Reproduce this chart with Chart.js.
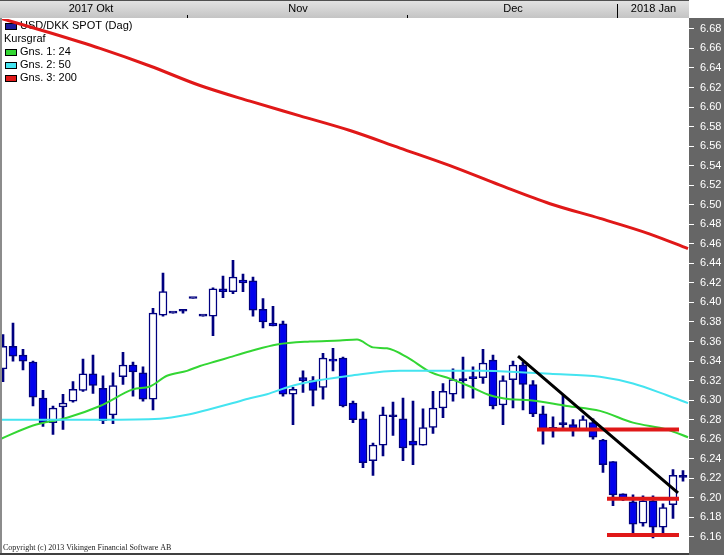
<!DOCTYPE html>
<html>
<head>
<meta charset="utf-8">
<script src="https://cdn.jsdelivr.net/npm/chart.js@4.4.1/dist/chart.umd.min.js"></script>
<style>
  html, body { margin: 0; padding: 0; background: #fff; }
  #wrap { width: 724px; height: 555px; }
</style>
</head>
<body>
<div id="wrap"><canvas id="myChart" width="724" height="555"></canvas></div>
<script>
// USD/DKK daily candles, index 0 = first visible trading day (Oct 2017)
const opens  = [6.332, 6.355, 6.346, 6.339, 6.302, 6.277, 6.293, 6.299, 6.310, 6.327,
                6.312, 6.285, 6.324, 6.336, 6.328, 6.301, 6.387, 6.389, 6.391, 6.404,
                6.386, 6.386, 6.414, 6.411, 6.423, 6.422, 6.393, 6.379, 6.378, 6.306,
                6.323, 6.320, 6.313, 6.342, 6.343, 6.297, 6.281, 6.238, 6.254, 6.283,
                6.281, 6.258, 6.254, 6.272, 6.292, 6.306, 6.320, 6.324, 6.323, 6.341,
                6.295, 6.321, 6.336, 6.316, 6.286, 6.270, 6.275, 6.275, 6.270, 6.277,
                6.259, 6.237, 6.204, 6.196, 6.174, 6.197, 6.170, 6.193, 6.221];
const highs  = [6.367, 6.379, 6.352, 6.340, 6.310, 6.294, 6.306, 6.319, 6.342, 6.346,
                6.325, 6.328, 6.349, 6.339, 6.334, 6.394, 6.430, 6.389, 6.392, 6.404,
                6.386, 6.415, 6.427, 6.443, 6.429, 6.426, 6.404, 6.396, 6.381, 6.313,
                6.330, 6.324, 6.348, 6.353, 6.344, 6.299, 6.288, 6.256, 6.293, 6.298,
                6.302, 6.299, 6.291, 6.309, 6.317, 6.332, 6.344, 6.334, 6.352, 6.346,
                6.325, 6.340, 6.339, 6.320, 6.294, 6.283, 6.305, 6.280, 6.284, 6.281,
                6.260, 6.237, 6.204, 6.203, 6.202, 6.202, 6.194, 6.229, 6.228];
const lows   = [6.319, 6.340, 6.331, 6.294, 6.273, 6.265, 6.270, 6.298, 6.309, 6.307,
                6.276, 6.276, 6.316, 6.304, 6.299, 6.290, 6.386, 6.389, 6.389, 6.404,
                6.386, 6.366, 6.405, 6.409, 6.411, 6.386, 6.374, 6.376, 6.304, 6.275,
                6.308, 6.294, 6.301, 6.330, 6.293, 6.277, 6.231, 6.223, 6.243, 6.264,
                6.238, 6.234, 6.254, 6.266, 6.282, 6.299, 6.302, 6.302, 6.317, 6.291,
                6.275, 6.292, 6.290, 6.283, 6.255, 6.262, 6.270, 6.263, 6.270, 6.260,
                6.226, 6.192, 6.197, 6.162, 6.171, 6.159, 6.164, 6.179, 6.217];
const closes = [6.355, 6.345, 6.340, 6.303, 6.277, 6.292, 6.297, 6.311, 6.327, 6.315,
                6.279, 6.315, 6.336, 6.329, 6.301, 6.389, 6.411, 6.389, 6.391, 6.404,
                6.386, 6.414, 6.411, 6.426, 6.420, 6.392, 6.380, 6.376, 6.306, 6.311,
                6.320, 6.310, 6.343, 6.340, 6.294, 6.280, 6.236, 6.254, 6.285, 6.283,
                6.251, 6.254, 6.272, 6.292, 6.309, 6.321, 6.320, 6.322, 6.338, 6.294,
                6.320, 6.336, 6.316, 6.286, 6.270, 6.270, 6.275, 6.271, 6.280, 6.262,
                6.234, 6.203, 6.199, 6.173, 6.197, 6.170, 6.190, 6.223, 6.221];

// moving averages, read at a set of trading-day positions
const ma24Days    = [-0.3, 3.0, 6.4, 9.7, 13.0, 14.7, 16.4, 18.4, 19.7, 21.4, 22.7, 24.7, 27.4, 30.7, 33.7,
                     35.4, 37.0, 38.4, 40.4, 42.7, 44.7, 46.7, 48.7, 50.7, 52.7, 56.4, 59.7, 63.0, 66.4, 68.5];
const ma24Values  = [6.260, 6.274, 6.282, 6.294, 6.311, 6.314, 6.325, 6.330, 6.335, 6.340, 6.344, 6.350, 6.357, 6.360, 6.361,
                     6.362, 6.354, 6.353, 6.344, 6.329, 6.322, 6.314, 6.305, 6.301, 6.300, 6.294, 6.289, 6.277, 6.270, 6.262];
const ma50Days    = [-0.3, 9.7, 15.7, 18.4, 20.4, 23.0, 24.7, 26.4, 28.7, 31.4, 34.7, 39.7, 47.7, 52.7, 54.7, 59.7, 63.0, 66.4, 68.5];
const ma50Values  = [6.280, 6.280, 6.281, 6.285, 6.290, 6.297, 6.302, 6.306, 6.314, 6.320, 6.325, 6.330, 6.330, 6.328, 6.327, 6.324, 6.317, 6.305, 6.297];
const ma200Days   = [-0.3, 4.7, 9.7, 14.7, 19.7, 24.7, 29.7, 34.7, 39.7, 44.7, 49.7, 54.7, 59.7, 64.7, 68.5];
const ma200Values = [6.691, 6.676, 6.660, 6.642, 6.622, 6.606, 6.591, 6.576, 6.558, 6.540, 6.520, 6.501, 6.486, 6.470, 6.455];

// drawn trend line and support/resistance levels
const trendDays   = [51.5, 67.5];
const trendValues = [6.345, 6.205];
const levelStarts = [53.4, 60.4, 60.4];
const levelEnds   = [67.6, 67.6, 67.6];
const levelValues = [6.270, 6.199, 6.162];

const monthLabels = ['2017 Okt', 'Nov', 'Dec', '2018 Jan'];
const monthStarts = [-3, 19, 41, 62];

const legendLabels = ['USD/DKK SPOT (Dag)', 'Kursgraf', 'Gns. 1: 24', 'Gns. 2: 50', 'Gns. 3: 200'];

const yMin = 6.1544, yMax = 6.6901, yStep = 0.02;

const NAVY = '#000080';
const BLUE = '#0000ee';
const GREEN = '#33d633';
const CYAN = '#44e4f0';
const RED = '#e01818';
const legendColors = ['#1c1c9c', null, GREEN, CYAN, RED];

const days = opens.map((o, i) => i);

function pts(xs, ys) {
  return xs.map((x, i) => ({ x: x, y: ys[i] }));
}

function bodyColor(i) {
  if (closes[i] === opens[i]) return NAVY;
  return closes[i] < opens[i] ? BLUE : '#ffffff';
}

const framePlugin = {
  id: 'frame',
  beforeDraw(chart) {
    const { ctx, chartArea: a, width, height } = chart;
    const xs = chart.scales.x;
    ctx.save();
    ctx.fillStyle = '#fff';
    ctx.fillRect(0, 0, width, height);
    // header bar with months
    const g = ctx.createLinearGradient(0, 0, 0, 18);
    g.addColorStop(0, '#e4e4e4');
    g.addColorStop(1, '#c4c4c4');
    ctx.fillStyle = g;
    ctx.fillRect(0, 0, a.right, 18);
    ctx.fillStyle = '#505050';
    ctx.fillRect(0, 0, a.right, 1);
    // right axis panel
    ctx.fillStyle = '#666666';
    ctx.fillRect(a.right, 18, width - a.right, height - 18);

    ctx.font = '11px "Liberation Sans", Arial, sans-serif';
    ctx.textAlign = 'center';
    ctx.textBaseline = 'middle';
    monthLabels.forEach((lab, i) => {
      const b0 = Math.max(a.left, xs.getPixelForValue(monthStarts[i] - 0.5));
      const b1 = i + 1 < monthStarts.length ? xs.getPixelForValue(monthStarts[i + 1] - 0.5) : a.right;
      ctx.fillStyle = '#000';
      ctx.fillText(lab, (b0 + Math.min(b1, a.right)) / 2 - (i === 0 ? 4 : 0), 9);
      if (i > 0) {
        const top = lab.length > 3 ? 4 : 15;
        ctx.fillRect(Math.round(b0) - 1, top, 1, 18 - top);
      }
    });
    ctx.restore();
  },
  beforeDatasetsDraw(chart) {
    const { ctx } = chart;
    ctx.save();
    ctx.font = '11px "Liberation Sans", Arial, sans-serif';
    ctx.textBaseline = 'middle';
    ctx.textAlign = 'left';
    legendLabels.forEach((lab, i) => {
      const y = 26 + i * 13;
      if (legendColors[i]) {
        ctx.fillStyle = legendColors[i];
        ctx.fillRect(5, y - 3, 12, 7);
        ctx.strokeStyle = '#000';
        ctx.lineWidth = 1;
        ctx.strokeRect(5.5, y - 2.5, 11, 6);
        ctx.fillStyle = '#000';
        ctx.fillText(lab, 20, y);
      } else {
        ctx.fillStyle = '#000';
        ctx.fillText(lab, 4, y);
      }
    });
    ctx.restore();
  },
  afterDraw(chart) {
    const { ctx, chartArea: a, height } = chart;
    ctx.save();
    ctx.fillStyle = '#8c8c8c';
    ctx.fillRect(0, 18, 2, height - 18);
    ctx.fillStyle = '#404040';
    ctx.fillRect(0, height - 2, a.right, 2);
    ctx.font = '8px "Liberation Serif", "Times New Roman", serif';
    ctx.fillStyle = '#222';
    ctx.textBaseline = 'alphabetic';
    ctx.fillText('Copyright (c) 2013 Vikingen Financial Software AB', 3, 550);
    ctx.restore();
  }
};

function lineSet(data, color, width, order) {
  return {
    type: 'line',
    data: data,
    borderColor: color,
    borderWidth: width,
    pointRadius: 0,
    cubicInterpolationMode: 'monotone',
    fill: false,
    order: order
  };
}

const datasets = [
  {
    type: 'bar',
    data: days.map(i => ({ x: i, y: [lows[i], highs[i]] })),
    backgroundColor: NAVY,
    borderWidth: 0,
    barThickness: 2,
    grouped: false,
    order: 6
  },
  {
    type: 'bar',
    data: days.map(i => ({ x: i, y: [Math.min(opens[i], closes[i]), Math.max(opens[i], closes[i])] })),
    backgroundColor: days.map(bodyColor),
    borderColor: NAVY,
    borderWidth: 1.5,
    borderSkipped: false,
    barThickness: 8,
    minBarLength: 2,
    grouped: false,
    order: 5
  },
  lineSet(pts(ma50Days, ma50Values), CYAN, 2, 4),
  lineSet(pts(ma24Days, ma24Values), GREEN, 2, 4),
  lineSet(pts(ma200Days, ma200Values), RED, 3, 4)
];
levelValues.forEach((v, i) => {
  datasets.push(lineSet(pts([levelStarts[i], levelEnds[i]], [v, v]), RED, 4, 2));
});
datasets.push(lineSet(pts(trendDays, trendValues), '#000000', 3, 1));

Chart.defaults.font.family = '"Liberation Sans", Arial, sans-serif';

new Chart(document.getElementById('myChart').getContext('2d'), {
  type: 'bar',
  data: { datasets: datasets },
  plugins: [framePlugin],
  options: {
    responsive: false,
    animation: false,
    devicePixelRatio: 1,
    layout: { padding: { top: 19, left: 2, bottom: 3, right: 0 } },
    plugins: { legend: { display: false }, tooltip: { enabled: false } },
    scales: {
      x: {
        type: 'linear',
        display: false,
        offset: false,
        min: -0.1,
        max: 68.6
      },
      y: {
        position: 'right',
        min: yMin,
        max: yMax,
        beginAtZero: false,
        afterFit: s => { s.width = 35; },
        border: { display: false },
        grid: { drawOnChartArea: false, tickLength: 5, tickColor: '#ffffff', tickWidth: 1 },
        ticks: {
          stepSize: yStep,
          includeBounds: false,
          autoSkip: false,
          color: '#ffffff',
          padding: 6,
          font: { size: 11 },
          callback: v => v.toFixed(2)
        }
      }
    }
  }
});
</script>
</body>
</html>
